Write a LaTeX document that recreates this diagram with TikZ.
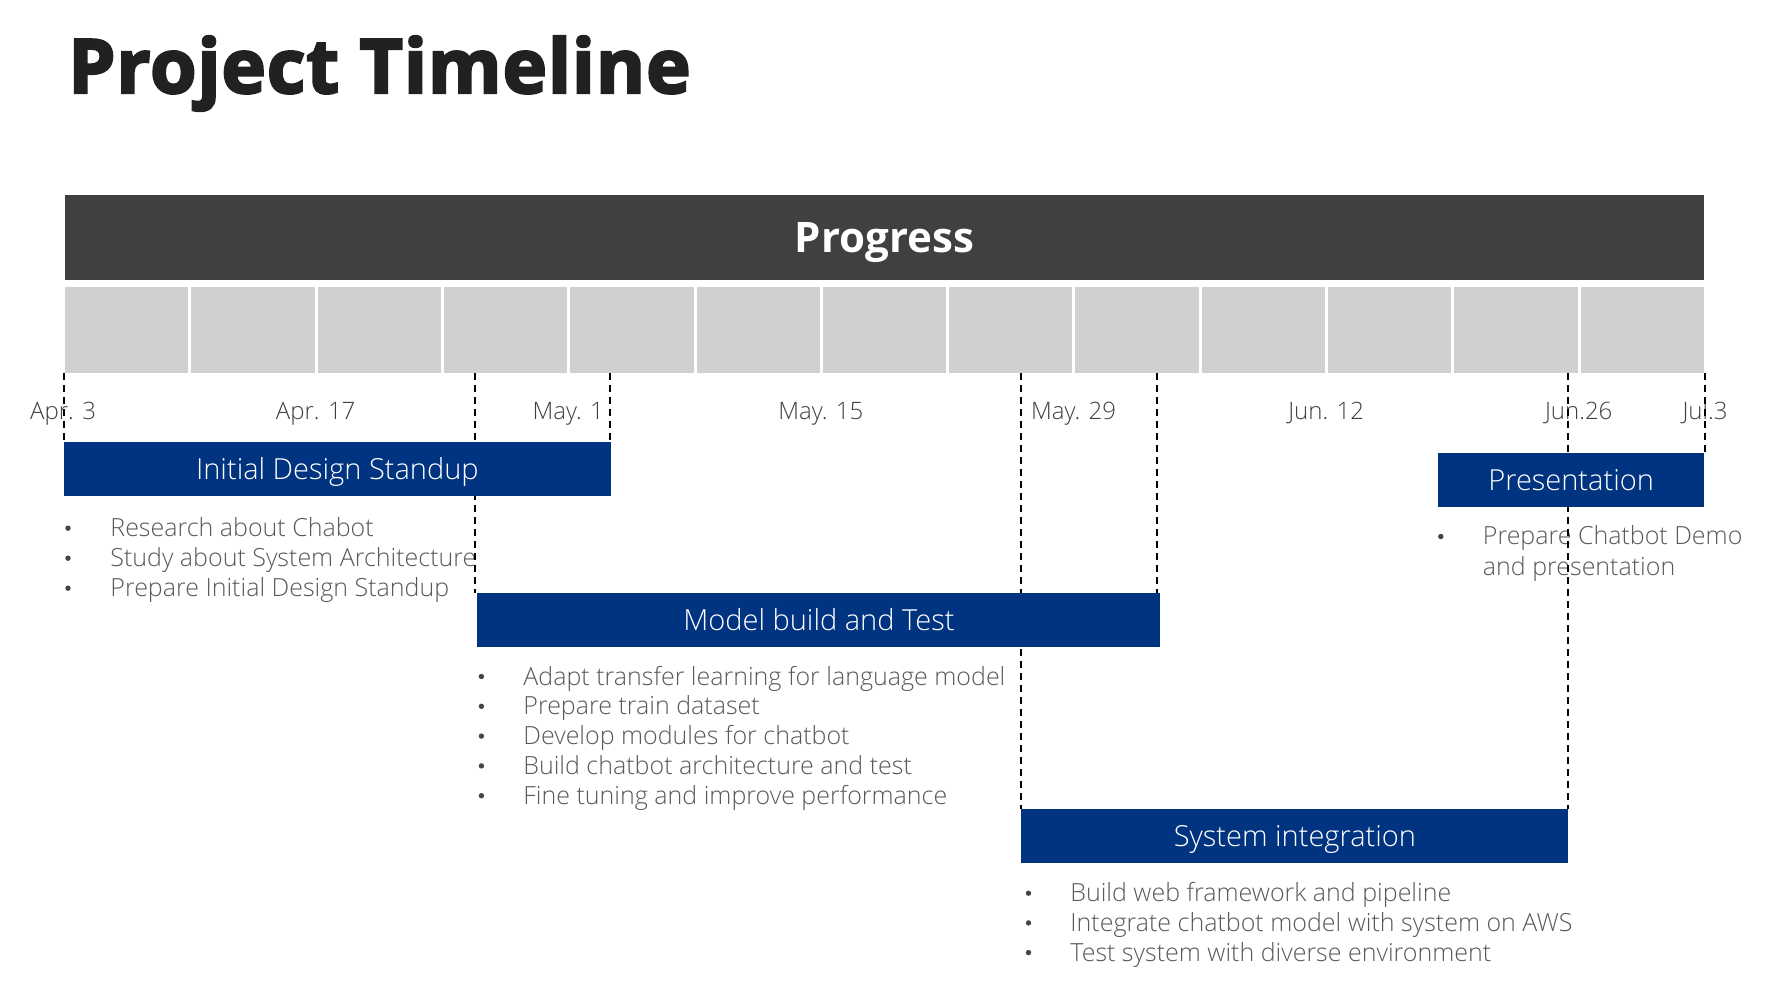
\documentclass[tikz,border=0pt]{standalone}
\usepackage{fontspec}
\setmainfont{Open Sans}
\newfontfamily\lightf{Open Sans Light}
\newfontfamily\heavyf{Open Sans}[BoldFeatures={FakeBold=3.2, LetterSpace=1.4}]
\definecolor{titlecol}{HTML}{212121}
\definecolor{barcol}{HTML}{404040}
\definecolor{cellcol}{HTML}{D0D0D0}
\definecolor{taskcol}{HTML}{003380}
\definecolor{datecol}{HTML}{404040}
\definecolor{itemcol}{HTML}{595959}
\definecolor{dotcol}{HTML}{454545}
\tikzset{
  cellbox/.style={fill=cellcol, inner sep=0, anchor=north west, minimum width=61.65pt, minimum height=43pt},
  taskbox/.style={fill=taskcol, inner sep=0, anchor=north west, minimum height=27pt, text=white,
     font=\lightf\fontsize{14.5}{16}\selectfont, text height=10.35pt, text depth=0pt},
  datelabel/.style={anchor=base, inner sep=0, text=datecol, font=\lightf\fontsize{12}{14}\selectfont},
  itemtext/.style={anchor=base west, inner sep=0, text=itemcol, font=\lightf\fontsize{12.5}{15}\selectfont},
  itembullet/.style={circle, fill=dotcol, inner sep=0, minimum size=2.7pt},
  guide/.style={draw=black, line width=1pt, dash pattern=on 3.5pt off 2.5pt},
}
\begin{document}
\begin{tikzpicture}[x=0.5pt,y=-0.5pt]
\useasboundingbox (0,0) rectangle (1776,983);
% title
\node[anchor=base west, inner sep=0, text=titlecol, font=\heavyf\bfseries\fontsize{37.5}{42}\selectfont] (title) at (68,93) {Project Timeline};
% progress bar
\node[fill=barcol, inner sep=0, anchor=north west, minimum width=819.5pt, minimum height=42.5pt,
  text=white, font=\bfseries\fontsize{21}{24}\selectfont, text height=15pt, text depth=0pt] (bar) at (64.6,194.8) {Progress};
% cells
\foreach \i in {0,...,12} {
  \node[cellbox] (cell\i) at ({64.6+126.3*\i},286.7) {};
}
% date labels
\foreach \i/\t in {0/Apr. 3, 2/Apr. 17, 4/May. 1, 6/May. 15, 8/May. 29, 10/Jun. 12, 12/Jun.26, 13/Jul.3} {
  \node[datelabel] (date\i) at ({63.1+126.3*\i},420) {\t};
}
% bullet lists
\foreach \k/\t in {0/Research about Chabot, 1/Study about System Architecture, 2/Prepare Initial Design Standup} {
  \node[itembullet] (ib\k) at (68,{536.7-8.5+30*\k}) {};
  \node[itemtext] (it\k) at (110,{536.7+30*\k}) {\t};
}
\foreach \k/\t in {0/Adapt transfer learning for language model, 1/Prepare train dataset, 2/Develop modules for chatbot, 3/Build chatbot architecture and test, 4/Fine tuning and improve performance} {
  \node[itembullet] (mb\k) at (481.4,{685-8.5+29.8*\k}) {};
  \node[itemtext] (mt\k) at (523,{685+29.8*\k}) {\t};
}
\foreach \k/\t in {0/Build web framework and pipeline, 1/Integrate chatbot model with system on AWS, 2/Test system with diverse environment} {
  \node[itembullet] (sb\k) at (1028.5,{901.7-8.5+29.7*\k}) {};
  \node[itemtext] (st\k) at (1070,{901.7+29.7*\k}) {\t};
}
\node[itembullet] (pb0) at (1440.8,{545-8.5}) {};
\node[itemtext] (pt0) at (1482.5,545) {Prepare Chatbot Demo};
\node[itemtext] (pt1) at (1482.5,575) {and presentation};
% guide lines
\coordinate (g1a) at (64,373);     \coordinate (g1b) at (64,442);
\coordinate (g2a) at (474.5,373);  \coordinate (g2b) at (474.5,593);
\coordinate (g3a) at (609.5,373);  \coordinate (g3b) at (609.5,442);
\coordinate (g4a) at (1020.6,373); \coordinate (g4b) at (1020.6,809);
\coordinate (g5a) at (1157.4,373); \coordinate (g5b) at (1157.4,593);
\coordinate (g6a) at (1567.7,373); \coordinate (g6b) at (1567.7,809);
\coordinate (g7a) at (1705,373);   \coordinate (g7b) at (1705,452);
\foreach \g in {1,...,7} { \draw[guide] (g\g a) -- (g\g b); }
% task boxes
\node[taskbox, minimum width=273.55pt] (init) at (63.4,442) {Initial Design Standup};
\node[taskbox, minimum width=341.5pt] (model) at (477,592.5) {Model build and Test};
\node[taskbox, minimum width=273.5pt] (sys) at (1021,809) {System integration};
\node[taskbox, minimum width=133.3pt] (pres) at (1437.4,452.5) {Presentation};
\end{tikzpicture}
\end{document}
